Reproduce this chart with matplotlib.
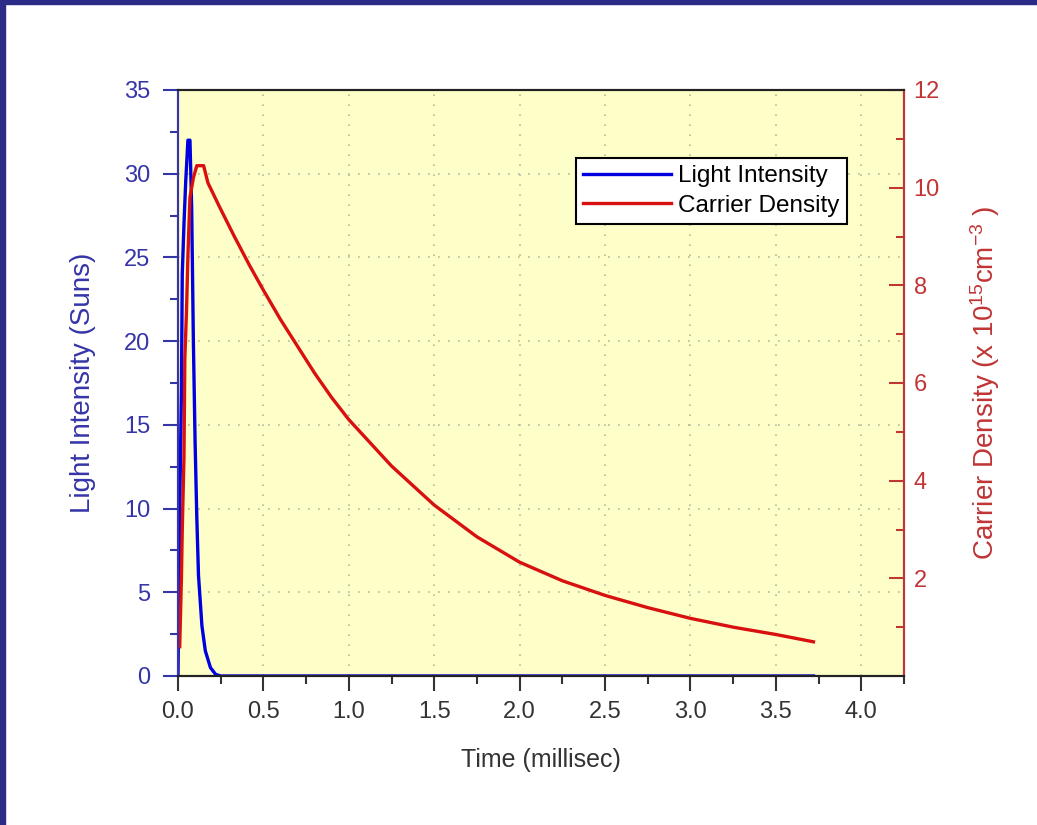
import matplotlib.pyplot as plt
from matplotlib.patches import Rectangle

plt.rcParams['font.family'] = ['Liberation Sans', 'DejaVu Sans']
plt.rcParams['mathtext.fontset'] = 'custom'
plt.rcParams['mathtext.rm'] = 'Liberation Sans'
plt.rcParams['mathtext.it'] = 'Liberation Sans'

# light intensity (Suns) vs time (ms)
time_li = [0.0, 0.01, 0.02, 0.025, 0.035, 0.045, 0.058, 0.07, 0.08, 0.09,
           0.10, 0.11, 0.12, 0.14, 0.16, 0.19, 0.22, 0.25, 3.72]
light = [0, 10, 17, 24, 27, 29.5, 32, 32, 28, 20,
         14, 9.5, 6, 3, 1.5, 0.5, 0.1, 0, 0]

# carrier density (x 1e15 cm^-3) vs time (ms)
time_cd = [0.01, 0.02, 0.025, 0.035, 0.04, 0.05, 0.058, 0.07, 0.09, 0.11,
           0.15, 0.175, 0.244, 0.33, 0.42, 0.5, 0.6, 0.7, 0.8, 0.9,
           1.0, 1.25, 1.5, 1.75, 2.0, 2.25, 2.5, 2.75, 3.0, 3.25, 3.5, 3.72]
carrier = [0.6, 2.0, 3.0, 4.5, 6.5, 7.5, 8.6, 9.8, 10.2, 10.45,
           10.45, 10.1, 9.6, 9.0, 8.4, 7.9, 7.3, 6.75, 6.2, 5.7,
           5.25, 4.3, 3.5, 2.85, 2.33, 1.95, 1.65, 1.4, 1.18, 1.0, 0.85, 0.7]

x_ticks = [0.0, 0.5, 1.0, 1.5, 2.0, 2.5, 3.0, 3.5, 4.0]
left_ticks = [0, 5, 10, 15, 20, 25, 30, 35]
right_ticks = [2, 4, 6, 8, 10, 12]

blue_txt = '#3535a8'
red_txt = '#c03535'

fig = plt.figure(figsize=(10.37, 8.25), dpi=100)
fig.patch.set_facecolor('white')
# dark blue slide frame on left and top
fig.patches.append(Rectangle((0, 0), 5 / 1037, 1, transform=fig.transFigure,
                             color='#2c2c88', zorder=10))
fig.patches.append(Rectangle((0, 1 - 4 / 825), 1, 4 / 825, transform=fig.transFigure,
                             color='#2c2c88', zorder=10))

ax1 = fig.add_axes([178 / 1037, 1 - 676 / 825, 726 / 1037, 586 / 825])
ax1.set_facecolor('#fefec8')
ax2 = ax1.twinx()

l1, = ax1.plot(time_li, light, color='#0000e0', lw=2.4, label='Light Intensity')
l2, = ax2.plot(time_cd, carrier, color='#d81010', lw=2.4, label='Carrier Density')

ax1.set_xlim(0, 4.25)
ax1.set_ylim(0, 35)
ax2.set_ylim(0, 12)

ax1.set_xticks(x_ticks)
ax1.set_xticklabels([f'{v:.1f}' for v in x_ticks])
ax1.set_xticks([0.25 + 0.5 * i for i in range(9)], minor=True)
ax1.set_yticks(left_ticks)
ax1.set_yticks([2.5 + 5 * i for i in range(7)], minor=True)
ax2.set_yticks(right_ticks)
ax2.set_yticks([1, 3, 5, 7, 9, 11], minor=True)

ax1.grid(True, which='major', color='#b8b8a0', linestyle=(0, (1, 5)), lw=1.2)

ax1.tick_params(axis='x', which='major', direction='out', length=11, width=1.5,
                pad=7, labelsize=17, colors='#333333')
ax1.tick_params(axis='x', which='minor', direction='out', length=6, width=1.5,
                colors='#333333')
ax1.tick_params(axis='y', which='major', direction='out', length=11, width=1.5,
                pad=9, labelsize=17, colors=blue_txt)
ax1.tick_params(axis='y', which='minor', direction='out', length=6, width=1.5,
                colors=blue_txt)
ax2.tick_params(axis='y', which='major', direction='in', length=11, width=1.5,
                pad=7, labelsize=17, colors=red_txt)
ax2.tick_params(axis='y', which='minor', direction='in', length=6, width=1.5,
                colors=red_txt)

for ax in (ax1, ax2):
    ax.spines['top'].set_color('#222222')
    ax.spines['bottom'].set_color('#222222')
    ax.spines['left'].set_color(blue_txt)
    ax.spines['right'].set_color(red_txt)
    for s in ax.spines.values():
        s.set_linewidth(1.5)

ax1.set_xlabel('Time (millisec)', fontsize=18, color='#333333', labelpad=18)
ax1.set_ylabel('Light Intensity (Suns)', fontsize=20, color=blue_txt, labelpad=20)
ax2.set_ylabel(r'Carrier Density (x 10$^{15}$cm$^{-3}$ )', fontsize=20,
               color=red_txt, labelpad=20)

leg = ax2.legend(handles=[l1, l2], loc='upper right', bbox_to_anchor=(0.921, 0.884),
                 fontsize=17.5, fancybox=False, framealpha=1, edgecolor='black',
                 borderpad=0.3, handlelength=3.6, handletextpad=0.3,
                 labelspacing=0.3, borderaxespad=0)
leg.get_frame().set_linewidth(1.5)

fig.savefig('out.png', dpi=100)
